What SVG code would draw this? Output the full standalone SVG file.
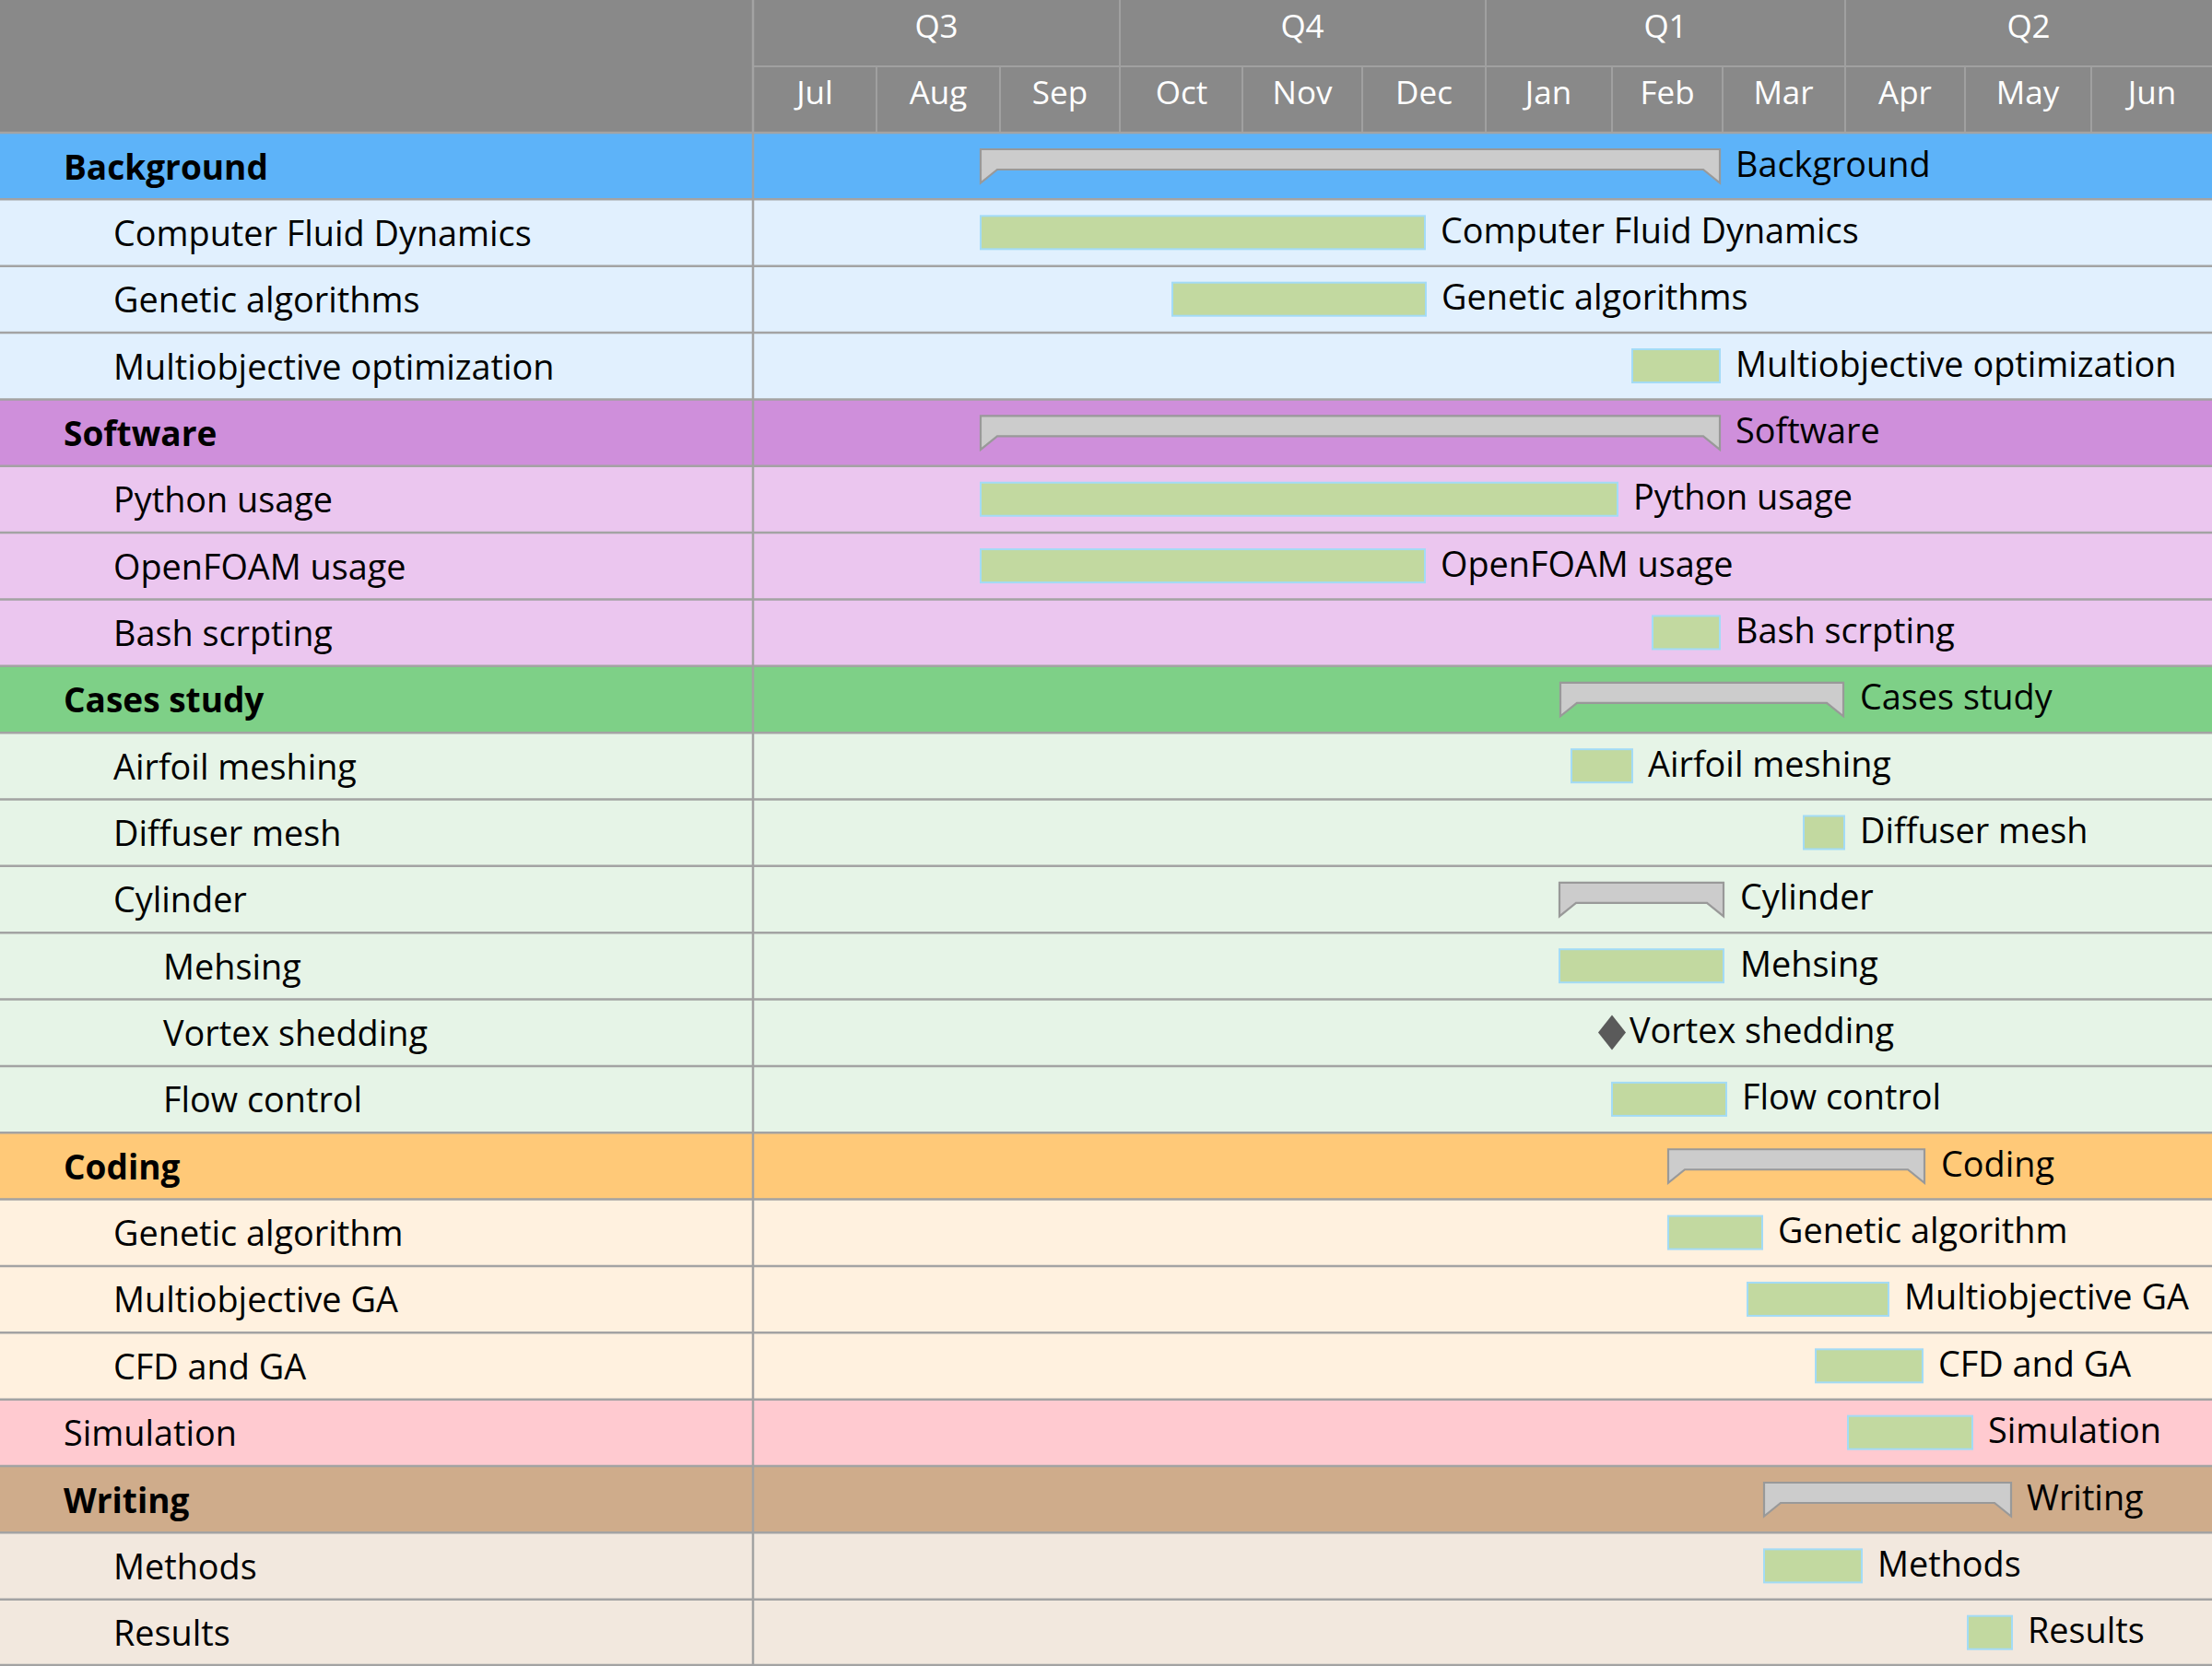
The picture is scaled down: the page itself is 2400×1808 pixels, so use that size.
<svg xmlns="http://www.w3.org/2000/svg" width="2400" height="1808" viewBox="0 0 2400 1808">
<style>
text{font-family:"Open Sans","DejaVu Sans",sans-serif;font-size:37.8px;fill:#000}
.hd{fill:#fff;font-size:35px;text-anchor:middle}
.b{font-weight:bold;font-size:37px}
.task{fill:#c2d9a0;stroke:#a3dbf6;stroke-width:2}
.sum{fill:#cccccc;stroke:#999999;stroke-width:2.2;stroke-linejoin:miter}
.ms{fill:#5a5a5a}
.grid{stroke:#a3a3a3;stroke-width:2.5;fill:none}
.hgrid{stroke:#a0a0a0;stroke-width:2;fill:none}
</style>
<!-- header -->
<g id="header">
<rect x="0" y="0" width="2400" height="144" fill="#898989"/>
<path class="hgrid" d="M817 72H2400M1215 0V144M1612 0V144M2002 0V144M951 72V144M1085 72V144M1348 72V144M1478 72V144M1749 72V144M1869 72V144M2132 72V144M2269 72V144"/>
<text class="hd" x="1016" y="41">Q3</text>
<text class="hd" x="1413" y="41">Q4</text>
<text class="hd" x="1807" y="41">Q1</text>
<text class="hd" x="2201" y="41">Q2</text>
<text class="hd" x="884" y="113">Jul</text>
<text class="hd" x="1018" y="113">Aug</text>
<text class="hd" x="1150" y="113">Sep</text>
<text class="hd" x="1282" y="113">Oct</text>
<text class="hd" x="1413" y="113">Nov</text>
<text class="hd" x="1545" y="113">Dec</text>
<text class="hd" x="1680" y="113">Jan</text>
<text class="hd" x="1809" y="113">Feb</text>
<text class="hd" x="1935" y="113">Mar</text>
<text class="hd" x="2067" y="113">Apr</text>
<text class="hd" x="2200" y="113">May</text>
<text class="hd" x="2335" y="113">Jun</text>
</g>
<!-- rows -->
<g id="row-background">
<rect x="0" y="144" width="2400" height="72.35" fill="#5db3f9"/>
<text class="b" x="69" y="194.5">Background</text>
<path class="sum" d="M1064 162H1866V198.5L1848 184H1082L1064 198.5Z"/>
<text x="1883" y="191.5">Background</text>
</g>
<g id="row-cfd">
<rect x="0" y="216.35" width="2400" height="72.35" fill="#e1f0fe"/>
<text x="123" y="266.8">Computer Fluid Dynamics</text>
<rect class="task" x="1064" y="234.35" width="482" height="36"/>
<text x="1563" y="263.8">Computer Fluid Dynamics</text>
</g>
<g id="row-genetic-algorithms">
<rect x="0" y="288.7" width="2400" height="72.35" fill="#e1f0fe"/>
<text x="123" y="339.2">Genetic algorithms</text>
<rect class="task" x="1272" y="306.7" width="275" height="36"/>
<text x="1564" y="336.2">Genetic algorithms</text>
</g>
<g id="row-multiobjective-optimization">
<rect x="0" y="361.05" width="2400" height="72.35" fill="#e1f0fe"/>
<text x="123" y="411.5">Multiobjective optimization</text>
<rect class="task" x="1771" y="379.05" width="95" height="36"/>
<text x="1883" y="408.5">Multiobjective optimization</text>
</g>
<g id="row-software">
<rect x="0" y="433.4" width="2400" height="72.35" fill="#cf8fdb"/>
<text class="b" x="69" y="483.9">Software</text>
<path class="sum" d="M1064 451.4H1866V487.9L1848 473.4H1082L1064 487.9Z"/>
<text x="1883" y="480.9">Software</text>
</g>
<g id="row-python-usage">
<rect x="0" y="505.75" width="2400" height="72.35" fill="#ebc6ef"/>
<text x="123" y="556.2">Python usage</text>
<rect class="task" x="1064" y="523.75" width="691" height="36"/>
<text x="1772" y="553.2">Python usage</text>
</g>
<g id="row-openfoam-usage">
<rect x="0" y="578.1" width="2400" height="72.35" fill="#ebc6ef"/>
<text x="123" y="628.6">OpenFOAM usage</text>
<rect class="task" x="1064" y="596.1" width="482" height="36"/>
<text x="1563" y="625.6">OpenFOAM usage</text>
</g>
<g id="row-bash-scrpting">
<rect x="0" y="650.45" width="2400" height="72.35" fill="#ebc6ef"/>
<text x="123" y="700.9">Bash scrpting</text>
<rect class="task" x="1793" y="668.45" width="73" height="36"/>
<text x="1883" y="697.9">Bash scrpting</text>
</g>
<g id="row-cases-study">
<rect x="0" y="722.8" width="2400" height="72.35" fill="#7ed087"/>
<text class="b" x="69" y="773.3">Cases study</text>
<path class="sum" d="M1693 740.8H2000V777.3L1982 762.8H1711L1693 777.3Z"/>
<text x="2018" y="770.3">Cases study</text>
</g>
<g id="row-airfoil-meshing">
<rect x="0" y="795.15" width="2400" height="72.35" fill="#e6f4e7"/>
<text x="123" y="845.6">Airfoil meshing</text>
<rect class="task" x="1705" y="813.15" width="66" height="36"/>
<text x="1788" y="842.6">Airfoil meshing</text>
</g>
<g id="row-diffuser-mesh">
<rect x="0" y="867.5" width="2400" height="72.35" fill="#e6f4e7"/>
<text x="123" y="918">Diffuser mesh</text>
<rect class="task" x="1957" y="885.5" width="44" height="36"/>
<text x="2018" y="915">Diffuser mesh</text>
</g>
<g id="row-cylinder">
<rect x="0" y="939.85" width="2400" height="72.35" fill="#e6f4e7"/>
<text x="123" y="990.3">Cylinder</text>
<path class="sum" d="M1692 957.85H1870V994.35L1852 979.85H1710L1692 994.35Z"/>
<text x="1888" y="987.3">Cylinder</text>
</g>
<g id="row-mehsing">
<rect x="0" y="1012.2" width="2400" height="72.35" fill="#e6f4e7"/>
<text x="177" y="1062.7">Mehsing</text>
<rect class="task" x="1692" y="1030.2" width="178" height="36"/>
<text x="1888" y="1059.7">Mehsing</text>
</g>
<g id="row-vortex-shedding">
<rect x="0" y="1084.55" width="2400" height="72.35" fill="#e6f4e7"/>
<text x="177" y="1135">Vortex shedding</text>
<path class="ms" d="M1749 1101.5L1764 1120.5L1749 1139.5L1734 1120.5Z"/>
<text x="1768" y="1132">Vortex shedding</text>
</g>
<g id="row-flow-control">
<rect x="0" y="1156.9" width="2400" height="72.35" fill="#e6f4e7"/>
<text x="177" y="1207.4">Flow control</text>
<rect class="task" x="1749" y="1174.9" width="124" height="36"/>
<text x="1890" y="1204.4">Flow control</text>
</g>
<g id="row-coding">
<rect x="0" y="1229.25" width="2400" height="72.35" fill="#ffc978"/>
<text class="b" x="69" y="1279.7">Coding</text>
<path class="sum" d="M1810 1247.25H2088V1283.75L2070 1269.25H1828L1810 1283.75Z"/>
<text x="2106" y="1276.7">Coding</text>
</g>
<g id="row-genetic-algorithm">
<rect x="0" y="1301.6" width="2400" height="72.35" fill="#fff1df"/>
<text x="123" y="1352.1">Genetic algorithm</text>
<rect class="task" x="1810" y="1319.6" width="102" height="36"/>
<text x="1929" y="1349.1">Genetic algorithm</text>
</g>
<g id="row-multiobjective-ga">
<rect x="0" y="1373.95" width="2400" height="72.35" fill="#fff1df"/>
<text x="123" y="1424.4">Multiobjective GA</text>
<rect class="task" x="1896" y="1391.95" width="153" height="36"/>
<text x="2066" y="1421.4">Multiobjective GA</text>
</g>
<g id="row-cfd-and-ga">
<rect x="0" y="1446.3" width="2400" height="72.35" fill="#fff1df"/>
<text x="123" y="1496.8">CFD and GA</text>
<rect class="task" x="1970" y="1464.3" width="116" height="36"/>
<text x="2103" y="1493.8">CFD and GA</text>
</g>
<g id="row-simulation">
<rect x="0" y="1518.65" width="2400" height="72.35" fill="#ffcad0"/>
<text x="69" y="1569.1">Simulation</text>
<rect class="task" x="2005" y="1536.65" width="135" height="36"/>
<text x="2157" y="1566.1">Simulation</text>
</g>
<g id="row-writing">
<rect x="0" y="1591" width="2400" height="72.35" fill="#cfac8b"/>
<text class="b" x="69" y="1641.5">Writing</text>
<path class="sum" d="M1914 1609H2182V1645.5L2164 1631H1932L1914 1645.5Z"/>
<text x="2199" y="1638.5">Writing</text>
</g>
<g id="row-methods">
<rect x="0" y="1663.35" width="2400" height="72.35" fill="#f2e8de"/>
<text x="123" y="1713.8">Methods</text>
<rect class="task" x="1914" y="1681.35" width="106" height="36"/>
<text x="2037" y="1710.8">Methods</text>
</g>
<g id="row-results">
<rect x="0" y="1735.7" width="2400" height="72.35" fill="#f2e8de"/>
<text x="123" y="1786.2">Results</text>
<rect class="task" x="2135" y="1753.7" width="48" height="36"/>
<text x="2200" y="1783.2">Results</text>
</g>
<!-- grid lines -->
<g id="grid">
<path class="grid" d="M0 144H2400M0 216.35H2400M0 288.7H2400M0 361.05H2400M0 433.4H2400M0 505.75H2400M0 578.1H2400M0 650.45H2400M0 722.8H2400M0 795.15H2400M0 867.5H2400M0 939.85H2400M0 1012.2H2400M0 1084.55H2400M0 1156.9H2400M0 1229.25H2400M0 1301.6H2400M0 1373.95H2400M0 1446.3H2400M0 1518.65H2400M0 1591H2400M0 1663.35H2400M0 1735.7H2400M0 1807H2400M817 0V1808"/>
</g>
<g id="connectors"/>
</svg>
